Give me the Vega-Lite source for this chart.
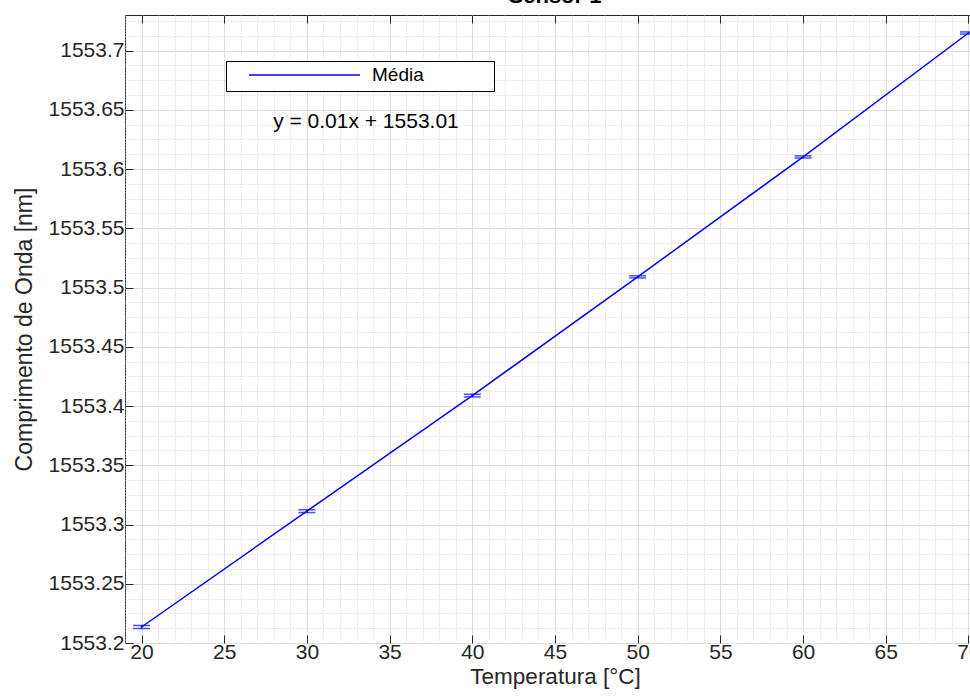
{
  "$schema": "https://vega.github.io/schema/vega-lite/v6.json",
  "width": 860,
  "height": 628,
  "autosize": {"type": "none"},
  "padding": {"left": 125, "top": 15, "right": -15, "bottom": 53},
  "title": {"text": "Sensor 1", "fontSize": 22, "fontWeight": "bold", "font": "Liberation Sans", "color": "#000000", "anchor": "middle", "offset": -10, "baseline": "alphabetic"},
  "data": {"values": [
    {"T": 20, "media": 1553.2135, "lo": 1553.2122, "hi": 1553.2148},
    {"T": 30, "media": 1553.3113, "lo": 1553.3101, "hi": 1553.3125},
    {"T": 40, "media": 1553.4088, "lo": 1553.4077, "hi": 1553.4099},
    {"T": 50, "media": 1553.5090, "lo": 1553.5081, "hi": 1553.5099},
    {"T": 60, "media": 1553.6102, "lo": 1553.6093, "hi": 1553.6111},
    {"T": 70, "media": 1553.7148, "lo": 1553.7139, "hi": 1553.7157}
  ]},
  "layer": [
    {
      "mark": {"type": "point", "opacity": 0},
      "encoding": {
        "x": {"field": "T", "type": "quantitative", "scale": {"domain": [19, 71], "nice": false, "zero": false},
          "axis": {"orient": "bottom", "values": [19,20,21,22,23,24,25,26,27,28,29,30,31,32,33,34,35,36,37,38,39,40,41,42,43,44,45,46,47,48,49,50,51,52,53,54,55,56,57,58,59,60,61,62,63,64,65,66,67,68,69,70,71],
            "grid": true, "gridDash": [1, 2], "gridColor": "#c4c4c4", "gridWidth": 0.8, "domain": false, "ticks": false, "labels": false, "title": null}},
        "y": {"field": "media", "type": "quantitative", "scale": {"domain": [1553.2, 1553.73], "nice": false, "zero": false},
          "axis": {"orient": "left", "values": [1553.2125,1553.225,1553.2375,1553.2625,1553.275,1553.2875,1553.3125,1553.325,1553.3375,1553.3625,1553.375,1553.3875,1553.4125,1553.425,1553.4375,1553.4625,1553.475,1553.4875,1553.5125,1553.525,1553.5375,1553.5625,1553.575,1553.5875,1553.6125,1553.625,1553.6375,1553.6625,1553.675,1553.6875,1553.7125,1553.725],
            "grid": true, "gridDash": [1, 2], "gridColor": "#c4c4c4", "gridWidth": 0.8, "domain": false, "ticks": false, "labels": false, "title": null}}
      }
    },
    {
      "mark": {"type": "line", "strokeWidth": 1.5},
      "encoding": {
        "x": {"field": "T", "type": "quantitative", "scale": {"domain": [19, 71], "nice": false, "zero": false},
          "axis": {"orient": "bottom", "values": [20, 25, 30, 35, 40, 45, 50, 55, 60, 65, 70], "grid": true, "gridColor": "#dedede", "gridWidth": 1,
            "domain": false, "ticks": true, "tickSize": -8, "tickColor": "#262626", "labelPadding": 6, "labelFontSize": 21, "labelColor": "#262626", "labelFont": "Liberation Sans",
            "title": "Temperatura [°C]", "titleFontSize": 22.5, "titleFont": "Liberation Sans", "titleFontWeight": "normal", "titleColor": "#262626", "titlePadding": 3}},
        "y": {"field": "media", "type": "quantitative", "scale": {"domain": [1553.2, 1553.73], "nice": false, "zero": false},
          "axis": {"orient": "left", "values": [1553.2, 1553.25, 1553.3, 1553.35, 1553.4, 1553.45, 1553.5, 1553.55, 1553.6, 1553.65, 1553.7], "format": ".2~f", "grid": true, "gridColor": "#dedede", "gridWidth": 1,
            "domain": false, "ticks": true, "tickSize": -8, "tickColor": "#262626", "labelPadding": 9, "labelFontSize": 21, "labelColor": "#262626", "labelFont": "Liberation Sans",
            "title": "Comprimento de Onda [nm]", "titleFontSize": 23, "titleFont": "Liberation Sans", "titleFontWeight": "normal", "titleColor": "#262626", "titlePadding": 12}},
        "color": {"datum": "Média", "type": "nominal", "scale": {"range": ["#0000ff"]},
          "legend": {"orient": "none", "legendX": 101, "legendY": 46, "title": null, "symbolType": "stroke", "symbolSize": 12321, "symbolStrokeWidth": 1.5,
            "clipHeight": 16, "padding": 6, "symbolOffset": 16, "labelOffset": 11, "labelFont": "Liberation Sans", "labelFontSize": 19, "labelColor": "#000000",
            "strokeColor": "#000000", "fillColor": "#ffffff", "cornerRadius": 0,
            "labelExpr": "datum.label + '\u00a0\u00a0\u00a0\u00a0\u00a0\u00a0\u00a0\u00a0\u00a0\u00a0\u00a0\u00a0\u200b'"}}
      }
    },
    {
      "mark": {"type": "errorbar", "color": "#0000ff", "thickness": 1.5, "ticks": {"size": 17, "thickness": 1.5, "color": "#0000ff"}},
      "encoding": {
        "x": {"field": "T", "type": "quantitative", "scale": {"domain": [19, 71], "nice": false, "zero": false}, "axis": null},
        "y": {"field": "lo", "type": "quantitative", "scale": {"domain": [1553.2, 1553.73], "nice": false, "zero": false}, "axis": null},
        "y2": {"field": "hi"}
      }
    },
    {
      "mark": {"type": "point", "opacity": 0},
      "encoding": {
        "x": {"field": "T", "type": "quantitative", "scale": {"domain": [19, 71], "nice": false, "zero": false},
          "axis": {"orient": "top", "values": [20, 25, 30, 35, 40, 45, 50, 55, 60, 65, 70], "grid": false, "domain": false, "ticks": true, "tickSize": -8, "tickColor": "#262626", "labels": false, "title": null}},
        "y": {"field": "media", "type": "quantitative", "scale": {"domain": [1553.2, 1553.73], "nice": false, "zero": false}, "axis": null}
      }
    },
    {
      "data": {"values": [{"eq": "y = 0.01x + 1553.01"}]},
      "mark": {"type": "text", "font": "Liberation Sans", "fontSize": 21, "fontWeight": "normal", "color": "#000000", "align": "center", "baseline": "middle"},
      "encoding": {
        "x": {"datum": 33.57, "type": "quantitative", "axis": null},
        "y": {"datum": 1553.64, "type": "quantitative", "axis": null},
        "text": {"field": "eq", "type": "nominal"}
      }
    }
  ],
  "resolve": {"axis": {"x": "independent", "y": "independent"}},
  "config": {
    "font": "Liberation Sans",
    "view": {"stroke": "#262626", "strokeWidth": 1}
  }
}
